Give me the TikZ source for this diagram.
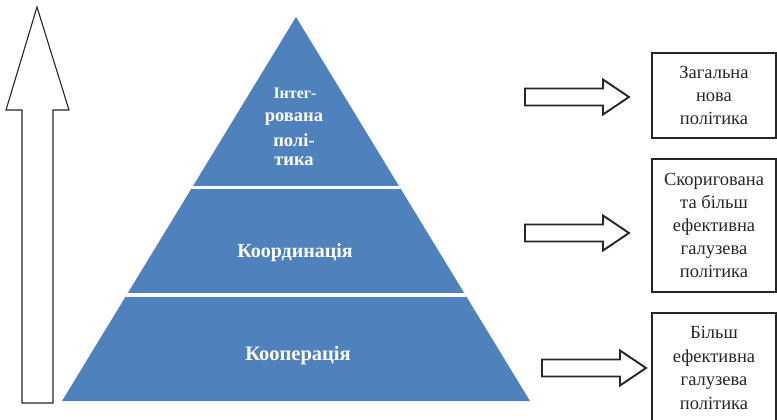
\documentclass[tikz,border=0pt]{standalone}
\usepackage{fontspec}
\setmainfont{Liberation Serif}
\definecolor{pyrblue}{HTML}{4F81BD}
\definecolor{edge}{HTML}{262626}
\tikzset{
  tiertext/.style={text=white, font=\bfseries\fontsize{18.5}{21}\selectfont, inner sep=0pt},
  boxtext/.style={draw=edge, line width=1.4pt, text=edge, align=center, font=\fontsize{18.5}{23}\selectfont, inner sep=0pt},
  blockarrow/.style={draw=edge, line width=1.9pt, fill=white, line join=miter},
  bigarrow/.style={draw=edge, line width=1.1pt, fill=white, line join=miter}
}
\begin{document}
\begin{tikzpicture}[x=1pt,y=-1pt]
\useasboundingbox (0,0) rectangle (777,420);
\clip (0,0) rectangle (777,420);
% big upward arrow
\draw[bigarrow] (22,403) -- (22,110) -- (6,110) -- (37,7) -- (69,110) -- (53,110) -- (53,403) -- cycle;
% pyramid
\coordinate (apex) at (296,17);
\coordinate (bl) at (62,401);
\coordinate (br) at (530,401);
\fill[pyrblue] (apex) -- (br) -- (bl) -- cycle;
\begin{scope}
  \clip (apex) -- (br) -- (bl) -- cycle;
  \draw[white, line width=3pt] (0,187.5) -- (777,187.5);
  \draw[white, line width=3.5pt] (0,295) -- (777,295);
\end{scope}
% tier labels
\node[tiertext, font=\bfseries\fontsize{16}{18}\selectfont] (t1a) at (295,93) {Інтег-};
\node[tiertext] (t1b) at (294,119) {рована};
\node[tiertext] (t1c) at (294,140) {полі-};
\node[tiertext] (t1d) at (294,161) {тика};
\node[tiertext, font=\bfseries\fontsize{20}{23}\selectfont] (t2) at (295,253) {Координація};
\node[tiertext, font=\bfseries\fontsize{20.5}{23}\selectfont] (t3) at (298,356) {Кооперація};
% right block arrows
\foreach \x/\y in {525/97, 525/233, 542/368}
  \draw[blockarrow] (\x,\y-8.5) -- (\x+78,\y-8.5) -- (\x+78,\y-17.5) -- (\x+104,\y) -- (\x+78,\y+17.5) -- (\x+78,\y+8.5) -- (\x,\y+8.5) -- cycle;
% boxes
\node[boxtext, minimum width=124pt, minimum height=85pt] (b1) at (714,95.5) {Загальна\\нова\\політика};
\node[boxtext, minimum width=124pt, minimum height=133pt] (b2) at (714,225.5) {Скоригована\\та більш\\ефективна\\галузева\\політика};
\node[boxtext, minimum width=124pt, minimum height=130pt, text depth=0pt] (b3) at (714,378) {};
\node[text=edge, align=center, font=\fontsize{18.5}{23.5}\selectfont, inner sep=0pt] (b3t) at (714,368) {Більш\\ефективна\\галузева\\політика};
\end{tikzpicture}
\end{document}
